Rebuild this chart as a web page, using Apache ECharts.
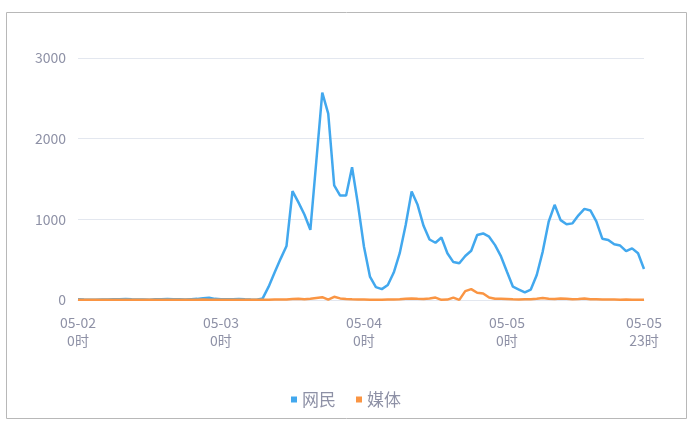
<!DOCTYPE html>
<html>
<head>
<meta charset="utf-8">
<script src="https://cdn.jsdelivr.net/npm/echarts@6/dist/echarts.min.js"></script>
<style>
html,body{margin:0;padding:0;background:#fff;}
#c{width:692px;height:425px;}
</style>
</head>
<body>
<div id="c"></div>
<script>
var days = ['05-02', '05-03', '05-04', '05-05'];
var hoursPerDay = 24;
var seriesNames = ['网民', '媒体'];
var yTicks = [0, 1000, 2000, 3000];

var netizen = [
  8, 5, 3, 4, 6, 5, 8, 10, 12, 8, 6, 5, 4, 8, 10, 12, 10, 8, 6, 10, 14, 22, 28, 14, 10, 8, 10, 12, 8, 5, 4,
  20, 165, 340, 510, 670, 1350, 1210, 1060, 870, 1720, 2570, 2310, 1420, 1295, 1295, 1645, 1180, 660, 290,
  160, 135, 185, 340, 580, 930, 1345, 1180, 920, 750, 710, 775, 580, 470, 455, 545, 610, 805, 825, 785,
  680, 540, 350, 165, 130, 95, 130, 310, 600, 970, 1180, 990, 940, 950, 1050, 1130, 1110, 975, 760, 745,
  690, 675, 605, 640, 580, 385
];
var media = [
  3, 2, 2, 3, 2, 3, 4, 3, 2, 3, 4, 3, 2, 3, 2, 3, 4, 3, 2, 3, 4, 5, 4, 3, 2, 3, 2, 3, 2, 3, 2,
  3, 3, 5, 5, 5, 12, 15, 10, 15, 25, 35, 5, 40, 20, 12, 8, 6, 5, 4,
  4, 3, 5, 6, 10, 15, 20, 15, 12, 20, 30, 2, 5, 30, 2, 110, 135, 90, 80, 30,
  15, 15, 12, 8, 5, 10, 8, 15, 25, 15, 12, 20, 15, 10, 12, 20, 10, 8, 6, 5,
  5, 4, 5, 4, 4, 4
];

var categories = [];
days.forEach(function (d) {
  for (var h = 0; h < hoursPerDay; h++) categories.push(d + '\n' + h + '时');
});
var lastIdx = categories.length - 1;

var chart = echarts.init(document.getElementById('c'));
var labelColor = '#8e91a6';
chart.setOption({
  animation: false,
  color: ['#42a8ee', '#fa9543'],
  graphic: [{
    type: 'rect',
    shape: { x: 6.5, y: 12.5, width: 680, height: 406 },
    style: { fill: null, stroke: '#b8b8b8', lineWidth: 1 },
    silent: true
  }],
  grid: { left: 78, right: 48, top: 58, bottom: 125 },
  legend: {
    bottom: 12,
    left: 'center',
    icon: 'rect',
    itemWidth: 6,
    itemHeight: 6,
    itemGap: 20,
    textStyle: { color: labelColor, fontSize: 17, fontFamily: 'Noto Sans CJK SC' },
    data: seriesNames
  },
  xAxis: {
    type: 'category',
    boundaryGap: false,
    data: categories,
    axisLine: { show: true, lineStyle: { color: '#e3e7ef' } },
    axisTick: { show: false },
    axisLabel: {
      color: labelColor,
      fontSize: 14,
      lineHeight: 18,
      margin: 14,
      fontFamily: 'Noto Sans CJK SC',
      interval: function (i) { return i % hoursPerDay === 0 || i === lastIdx; }
    }
  },
  yAxis: {
    type: 'value',
    min: yTicks[0],
    max: yTicks[yTicks.length - 1],
    interval: yTicks[1] - yTicks[0],
    axisLine: { show: false },
    axisTick: { show: false },
    splitLine: { lineStyle: { color: '#e3e7ef' } },
    axisLabel: {
      color: labelColor, fontSize: 14, margin: 12, fontFamily: 'Noto Sans CJK SC',
      formatter: function (v) { return String(v); }
    }
  },
  series: [
    { name: seriesNames[0], type: 'line', data: netizen, showSymbol: false, lineStyle: { width: 2.5 } },
    { name: seriesNames[1], type: 'line', data: media, showSymbol: false, lineStyle: { width: 2.5 } }
  ]
});
</script>
</body>
</html>
